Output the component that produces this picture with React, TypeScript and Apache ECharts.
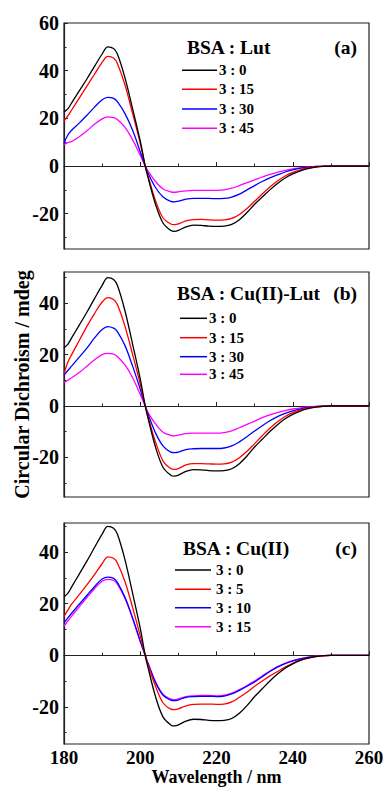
import React, { useEffect, useRef } from "react";
import * as echarts from "echarts";

const wavelength = [180, 181, 182, 184, 186, 188, 190, 191.5, 193, 194, 196, 198, 200, 201.3, 202, 204, 206, 208, 209, 210, 212, 214, 216, 218, 220, 222, 224, 226, 228, 230, 232, 234, 236, 238, 240, 242, 244, 246, 248, 250, 255, 260];

// BSA alone (black, 3 : 0) – same sample in every panel
const bsaFree = [22.7, 24, 26.5, 31.5, 36.5, 41.8, 47, 50, 49.3, 47, 37, 24, 10.5, 0, -4.5, -16, -24, -27, -27.4, -27, -25.5, -24.8, -24.9, -25.2, -25.3, -25.2, -24.5, -22.5, -19.5, -16, -13, -10, -7.3, -5, -3.3, -2, -1.1, -0.5, -0.15, 0, 0, 0];

// Panel (a) BSA : Lut
const lut15 = [18.8, 21, 23.5, 28.5, 33.5, 38.5, 43.5, 46, 45.3, 43, 34, 22, 9.5, 0, -4, -14.5, -21.8, -24.3, -24.6, -24.3, -23, -22.5, -22.4, -22.6, -22.7, -22.6, -22, -20.3, -17.8, -14.8, -11.7, -8.8, -6.3, -4.2, -2.7, -1.6, -0.8, -0.3, -0.1, 0, 0, 0];
const lut30 = [9.5, 13, 15, 18, 21.3, 24.7, 27.8, 28.8, 28.4, 27, 22, 15, 6, 0, -2.8, -9, -13, -14.8, -15, -14.7, -13.9, -13.6, -13.6, -13.6, -13.7, -13.6, -13, -11.8, -10, -8.2, -6.5, -5, -3.7, -2.5, -1.6, -0.9, -0.5, -0.2, -0.05, 0, 0, 0];
const lut45 = [9, 9.8, 10.3, 12.3, 14.8, 17.5, 19.8, 20.6, 20.3, 19.5, 16.2, 11, 4.5, 0, -2, -6.5, -9.6, -10.8, -11, -10.8, -10.4, -10.2, -10.2, -10.2, -10.2, -10, -9.3, -8.2, -7, -5.8, -4.6, -3.5, -2.6, -1.8, -1.2, -0.8, -0.4, -0.2, -0.1, 0, 0, 0];

// Panel (b) BSA : Cu(II)-Lut
const cuLut15 = [12.5, 17, 20, 25.5, 31, 36, 40.5, 42.2, 41.5, 39.5, 31, 20, 8.5, 0, -4, -14, -21.5, -24.4, -24.7, -24.4, -23, -22.5, -22.5, -22.6, -22.7, -22.6, -21.9, -20.2, -17.7, -14.7, -11.6, -8.7, -6.2, -4.1, -2.6, -1.5, -0.8, -0.3, -0.1, 0, 0, 0];
const cuLut30 = [12, 13.8, 15.5, 19, 22.5, 26.5, 29.8, 30.9, 30.3, 29, 23.5, 15.5, 6.5, 0, -3, -10.5, -15.7, -18, -18.2, -18, -17, -16.7, -16.6, -16.6, -16.6, -16.4, -15.6, -14, -12, -9.8, -7.7, -5.8, -4.2, -2.9, -1.9, -1.2, -0.6, -0.3, -0.1, 0, 0, 0];
const cuLut45 = [9.2, 10, 11, 13, 15.5, 18, 20, 20.5, 20.2, 19.3, 16, 11, 4.5, 0, -2.5, -7, -10.3, -11.5, -11.7, -11.4, -10.8, -10.6, -10.6, -10.6, -10.6, -10.4, -9.7, -8.5, -7.2, -5.9, -4.6, -3.5, -2.6, -1.8, -1.2, -0.8, -0.4, -0.2, -0.1, 0, 0, 0];

// Panel (c) BSA : Cu(II)
const cu5 = [15, 17.5, 19.8, 23.5, 27.3, 31.3, 35.5, 38.2, 37.6, 35.8, 28.5, 18.5, 7.5, 0, -3.5, -12, -18.5, -20.9, -21.1, -20.8, -19.6, -19, -18.9, -18.9, -19, -18.9, -18.1, -16.3, -14.3, -12, -10, -8, -6.3, -4.6, -3.1, -1.9, -1.1, -0.5, -0.2, 0, 0, 0];
const cu10 = [12.6, 14.5, 16.3, 19.8, 23.2, 26.6, 29.6, 30.3, 29.8, 28.3, 22.5, 14.5, 5.5, 0, -3, -10.5, -15.5, -17.4, -17.6, -17.3, -16.3, -16, -15.9, -15.9, -16, -15.8, -15, -13.6, -12, -10.3, -8.3, -6.3, -4.6, -3.2, -2.2, -1.4, -0.8, -0.4, -0.15, 0, 0, 0];
const cu15 = [11.3, 13.3, 15.2, 18.8, 22.4, 25.8, 28.7, 29.4, 29, 27.6, 22, 14.2, 5.3, 0, -2.9, -10.2, -15.2, -17, -17.2, -16.9, -16, -15.7, -15.6, -15.6, -15.7, -15.5, -14.7, -13.3, -11.7, -10, -8, -6.1, -4.4, -3.1, -2.1, -1.3, -0.7, -0.35, -0.1, 0, 0, 0];

const xTickValues = [180, 200, 220, 240, 260];
const yMajorA = [-20, 0, 20, 40, 60];
const yMinorA = [-30, -10, 10, 30, 50];
const yMajorBC = [-20, 0, 20, 40];
const yMinorBC = [-30, -10, 10, 30, 50];

const panelTitles = ["BSA : Lut", "BSA : Cu(II)-Lut", "BSA : Cu(II)"];
const panelTags = ["(a)", "(b)", "(c)"];
const legendA = ["3 : 0", "3 : 15", "3 : 30", "3 : 45"];
const legendB = ["3 : 0", "3 : 15", "3 : 30", "3 : 45"];
const legendC = ["3 : 0", "3 : 5", "3 : 10", "3 : 15"];

const COLORS = ["#000000", "#ff0000", "#0000ff", "#ff00ff"];
const FONT = "'Liberation Serif', 'Times New Roman', serif";
const AXIS_COLOR = "#222";

const pairs = (ys: number[]) => wavelength.map((w, i) => [w, ys[i]]);

export default function App() {
  const ref = useRef<HTMLDivElement>(null);
  useEffect(() => {
    if (!ref.current) return;
    const chart = echarts.init(ref.current, undefined, { renderer: "svg" });

    const grids = [
      { left: 64, width: 305, top: 23, height: 226 },
      { left: 64, width: 305, top: 272, height: 225 },
      { left: 64, width: 305, top: 523, height: 221 },
    ];
    const yRanges = [
      [-34.8, 60],
      [-35.5, 52.2],
      [-34.4, 51.3],
    ];
    const majors = [yMajorA, yMajorBC, yMajorBC];
    const minors = [yMinorA, yMinorBC, yMinorBC];
    const panelData = [
      [bsaFree, lut15, lut30, lut45],
      [bsaFree, cuLut15, cuLut30, cuLut45],
      [bsaFree, cu5, cu10, cu15],
    ];
    const legendNames = [legendA, legendB, legendC];

    const labelStyle = { fontFamily: FONT, fontWeight: "bold" as const, fontSize: 20, color: "#000" };

    const xAxis = grids.map((_, k) => ({
      gridIndex: k,
      type: "value",
      min: 180,
      max: 260,
      interval: 20,
      axisLine: { show: true, lineStyle: { color: AXIS_COLOR, width: 1.2 } },
      axisTick: { show: true, inside: true, length: 4, lineStyle: { color: AXIS_COLOR, width: 1 } },
      minorTick: { show: true, splitNumber: 2, length: 2.5, lineStyle: { color: AXIS_COLOR, width: 1 } },
      axisLabel: { show: k === 2, margin: 4, ...labelStyle, fontSize: 19, lineHeight: 19, customValues: xTickValues },
      splitLine: { show: false },
      minorSplitLine: { show: false },
      ...(k === 2
        ? {
            name: "Wavelength / nm",
            nameLocation: "middle",
            nameGap: 24,
            nameMoveOverlap: false,
            nameTextStyle: { fontFamily: FONT, fontWeight: "bold", fontSize: 18, lineHeight: 18, color: "#000" },
          }
        : {}),
    }));

    const yAxis: any[] = [];
    grids.forEach((_, k) => {
      yAxis.push({
        gridIndex: k,
        type: "value",
        position: "left",
        min: yRanges[k][0],
        max: yRanges[k][1],
        axisLine: { show: true, lineStyle: { color: AXIS_COLOR, width: 1.2 } },
        axisTick: { show: true, inside: true, length: 4, customValues: majors[k], lineStyle: { color: AXIS_COLOR, width: 1 } },
        axisLabel: { show: true, margin: 5, customValues: majors[k], ...labelStyle },
        splitLine: { show: false },
        ...(k === 1
          ? {
              name: "Circular Dichroism / mdeg",
              nameLocation: "middle",
              nameGap: 32,
              nameRotate: 90,
              nameMoveOverlap: false,
              nameTextStyle: { fontFamily: FONT, fontWeight: "bold", fontSize: 20, color: "#000" },
            }
          : {}),
      });
      yAxis.push({
        gridIndex: k,
        type: "value",
        position: "left",
        min: yRanges[k][0],
        max: yRanges[k][1],
        axisLine: { show: false },
        axisTick: { show: true, inside: true, length: 2.5, customValues: minors[k], lineStyle: { color: AXIS_COLOR, width: 1 } },
        axisLabel: { show: false },
        splitLine: { show: false },
      });
    });

    const series: any[] = [];
    panelData.forEach((arrs, k) => {
      arrs.forEach((ys, j) => {
        series.push({
          name: `${panelTags[k]} ${legendNames[k][j]}`,
          type: "line",
          xAxisIndex: k,
          yAxisIndex: 2 * k,
          data: pairs(ys),
          showSymbol: false,
          smooth: 0.35,
          lineStyle: { color: COLORS[j], width: 1.3 },
          itemStyle: { color: COLORS[j] },
          z: 10 - j,
        });
      });
    });

    // legend layouts (graphic)
    const legendLayout = [
      { titleX: 187, titleY: 47, tagY: 47, lineX1: 182, lineX2: 217, textX: 219, ys: [70.3, 89.3, 109, 128.3] },
      { titleX: 177, titleY: 293, tagY: 293, lineX1: 180, lineX2: 207, textX: 209, ys: [318.3, 337.7, 356.7, 374.3] },
      { titleX: 183, titleY: 548, tagY: 548, lineX1: 175, lineX2: 211, textX: 216, ys: [570, 589.3, 607.7, 626.7] },
    ];
    const graphic: any[] = [];
    legendLayout.forEach((L, k) => {
      graphic.push({
        type: "text",
        x: L.titleX,
        y: L.titleY,
        style: { text: panelTitles[k], font: `bold 19.5px ${FONT}`, fill: "#000", textAlign: "left", textVerticalAlign: "middle" },
      });
      graphic.push({
        type: "text",
        x: 357,
        y: L.tagY,
        style: { text: panelTags[k], font: `bold 19.5px ${FONT}`, fill: "#000", textAlign: "right", textVerticalAlign: "middle" },
      });
      L.ys.forEach((yy, j) => {
        graphic.push({
          type: "line",
          shape: { x1: L.lineX1, y1: yy, x2: L.lineX2, y2: yy },
          style: { stroke: COLORS[j], lineWidth: 1.5 },
        });
        graphic.push({
          type: "text",
          x: L.textX,
          y: yy,
          style: { text: legendNames[k][j], font: `bold 15px ${FONT}`, fill: "#000", textAlign: "left", textVerticalAlign: "middle" },
        });
      });
    });

    chart.setOption({
      animation: false,
      backgroundColor: "#ffffff",
      grid: grids.map((g) => ({
        ...g,
        show: true,
        borderColor: AXIS_COLOR,
        borderWidth: 1.2,
        backgroundColor: "transparent",
        containLabel: false,
        outerBoundsMode: "none",
      })),
      xAxis,
      yAxis,
      series,
      graphic,
    });
    return () => chart.dispose();
  }, []);

  return <div ref={ref} style={{ position: "fixed", left: 0, top: 0, width: 385, height: 787 }} />;
}
